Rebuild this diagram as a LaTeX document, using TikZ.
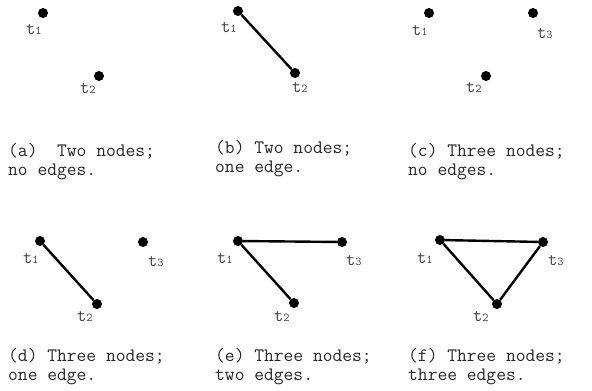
\documentclass[tikz,border=0pt]{standalone}
\usepackage{fontspec}
\usetikzlibrary{positioning}
\tikzset{
  vertex/.style={circle,fill=black,inner sep=0pt,minimum size=10pt},
  edge/.style={line width=2.4pt},
  tlab/.style={anchor=base west,inner sep=0pt,text=black!75,
               font=\ttfamily\fontsize{18}{18}\selectfont},
  capt/.style={anchor=base west,inner sep=0pt,align=left,text=black!85,
               font=\ttfamily\fontsize{19}{19}\selectfont},
}
\newcommand{\tn}[1]{t{\fontsize{12}{12}\selectfont #1}}

\begin{document}
\begin{tikzpicture}[x=1pt,y=-1pt]
  \useasboundingbox (0,0) rectangle (592,391);
  % (a)
  \node[vertex] (a1) at (43,13) {};
  \node[vertex] (a2) at (99,76) {};
  \node[tlab] (a1l) at (26,34) {\tn1};
  \node[tlab] (a2l) at (80,93) {\tn2};
  \node[capt] (acap) at (8,175) {(a)\ \ Two nodes;\\no edges.};
  % (b)
  \node[vertex] (b1) at (238,11) {};
  \node[vertex] (b2) at (295,73) {};
  \node[tlab] (b1l) at (221,32) {\tn1};
  \node[tlab] (b2l) at (292,92) {\tn2};
  \draw[edge] (b1) -- (b2);
  \node[capt] (bcap) at (215,172) {(b) Two nodes;\\one edge.};
  % (c)
  \node[vertex] (c1) at (429,13) {};
  \node[vertex] (c2) at (486,76) {};
  \node[vertex] (c3) at (533,13) {};
  \node[tlab] (c1l) at (412,35) {\tn1};
  \node[tlab] (c2l) at (466,92) {\tn2};
  \node[tlab] (c3l) at (537,38) {\tn3};
  \node[capt] (ccap) at (408,175) {(c) Three nodes;\\no edges.};
  % (d)
  \node[vertex] (d1) at (40,241) {};
  \node[vertex] (d2) at (97,304) {};
  \node[vertex] (d3) at (143,242) {};
  \node[tlab] (d1l) at (23,263) {\tn1};
  \node[tlab] (d2l) at (77,321) {\tn2};
  \node[tlab] (d3l) at (148,266) {\tn3};
  \draw[edge] (d1) -- (d2);
  \node[capt] (dcap) at (8,380) {(d) Three nodes;\\one edge.};
  % (e)
  \node[vertex] (e1) at (238,241) {};
  \node[vertex] (e2) at (294,303) {};
  \node[vertex] (e3) at (342,242) {};
  \node[tlab] (e1l) at (217,263) {\tn1};
  \node[tlab] (e2l) at (274,321) {\tn2};
  \node[tlab] (e3l) at (346,265) {\tn3};
  \draw[edge] (e1) -- (e2);
  \draw[edge] (e1) -- (e3);
  \node[capt] (ecap) at (215,380) {(e) Three nodes;\\two edges.};
  % (f)
  \node[vertex] (f1) at (440,240) {};
  \node[vertex] (f2) at (497,304) {};
  \node[vertex] (f3) at (543,242) {};
  \node[tlab] (f1l) at (417,263) {\tn1};
  \node[tlab] (f2l) at (473,321) {\tn2};
  \node[tlab] (f3l) at (548,265) {\tn3};
  \draw[edge] (f1) -- (f2) -- (f3) -- (f1);
  \node[capt] (fcap) at (408,380) {(f) Three nodes;\\three edges.};
\end{tikzpicture}
\end{document}
